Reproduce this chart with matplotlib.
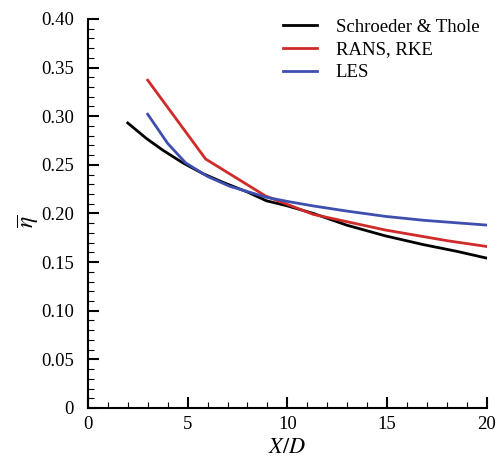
import numpy as np
import matplotlib
matplotlib.use("Agg")
import matplotlib.pyplot as plt
from matplotlib.ticker import MultipleLocator

plt.rcParams['font.family'] = ['Liberation Serif', 'DejaVu Serif']
plt.rcParams['mathtext.fontset'] = 'stix'

# data
x_exp = [2.0, 2.94, 3.76, 4.76, 5.76, 6.77, 8.0, 8.95, 9.96, 11.3, 12.97, 14.9, 16.8, 18.5, 20.0]
eta_exp = [0.293, 0.277, 0.265, 0.252, 0.241, 0.232, 0.222, 0.213, 0.208, 0.200, 0.188, 0.177, 0.168, 0.161, 0.154]

x_rans = [3.0, 5.9, 8.9, 11.3, 14.9, 18.0, 20.0]
eta_rans = [0.337, 0.256, 0.218, 0.199, 0.183, 0.172, 0.166]

x_les = [3.0, 4.0, 4.9, 6.0, 7.1, 8.95, 9.96, 11.3, 12.96, 14.9, 16.8, 20.0]
eta_les = [0.302, 0.272, 0.252, 0.238, 0.228, 0.2166, 0.2125, 0.2077, 0.2025, 0.197, 0.193, 0.188]

fig = plt.figure(figsize=(5.02, 4.61), dpi=100)
ax = fig.add_axes([0.175, 0.115, 0.795, 0.844])

ax.plot(x_exp, eta_exp, color='black', lw=2.0, label='Schroeder & Thole')
ax.plot(x_rans, eta_rans, color='#d02a2a', lw=2.0, label='RANS, RKE')
ax.plot(x_les, eta_les, color='#3f4fb0', lw=2.0, label='LES')

ax.set_xlim(0, 20)
ax.set_ylim(0, 0.40)
ax.xaxis.set_major_locator(MultipleLocator(5))
ax.xaxis.set_minor_locator(MultipleLocator(1))
ax.yaxis.set_major_locator(MultipleLocator(0.05))
ax.yaxis.set_minor_locator(MultipleLocator(0.01))
ax.set_yticks(np.arange(0, 0.401, 0.05))
ax.set_yticklabels(['0'] + ['%.2f' % v for v in np.arange(0.05, 0.401, 0.05)])

for s in ['top', 'right']:
    ax.spines[s].set_visible(False)
for s in ['left', 'bottom']:
    ax.spines[s].set_linewidth(1.5)

ax.tick_params(which='major', direction='in', length=8, width=1.5, labelsize=13.5)
ax.tick_params(axis='y', which='major', pad=10)
ax.tick_params(axis='x', which='major', pad=6)
ax.tick_params(which='minor', direction='in', length=4.5, width=0.8)

ax.set_xlabel('$X/D$', fontsize=16, labelpad=4)
ax.set_ylabel(r'$\overline{\eta}$', fontsize=17)
ax.yaxis.set_label_coords(-0.118, 0.48)

ax.legend(loc='upper right', frameon=False, fontsize=13.5, handlelength=1.8,
          handletextpad=1.0, borderaxespad=0.0, labelspacing=0.3,
          bbox_to_anchor=(1.0, 1.02))

fig.savefig('out.png', dpi=100)
